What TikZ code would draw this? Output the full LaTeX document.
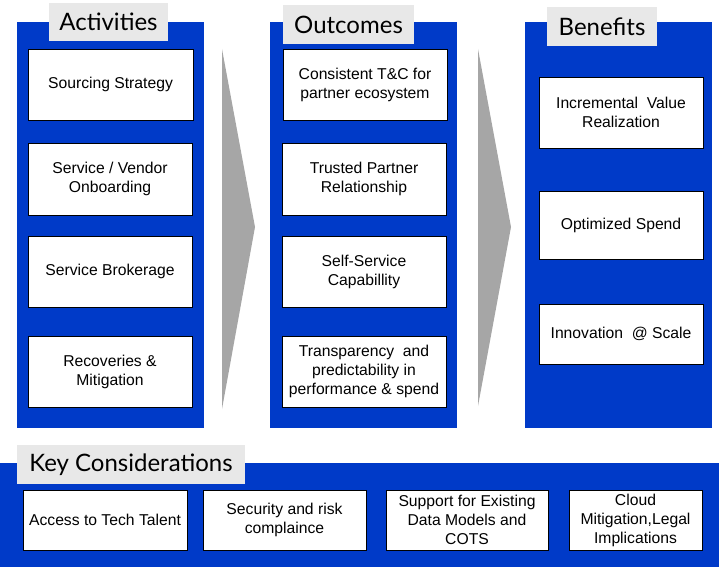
\documentclass[tikz,border=0pt]{standalone}
\usepackage{fontspec}
\setmainfont{Liberation Sans}
\newfontfamily\headfont{Lato}
\definecolor{panelblue}{RGB}{0,58,200}
\definecolor{headgray}{RGB}{232,232,232}
\definecolor{arrowgray}{RGB}{166,166,166}

% box given by its corners: style, name, x1, y1, x2, y2, text
\newcommand\cornerbox[7]{%
  \node[#1, minimum width={#5-#3}, minimum height={#6-#4}] (#2)
    at ({(#3+#5)/2},{(#4+#6)/2}) {#7};}

\begin{document}
\begin{tikzpicture}[x=1pt,y=-1pt,
  panel/.style={fill=panelblue, draw=none, inner sep=0pt, outer sep=0pt},
  header/.style={fill=headgray, draw=none, inner sep=0pt,
    font=\headfont\fontsize{24}{28}\selectfont},
  item/.style={fill=white, draw=black, line width=0.8pt, inner sep=2pt,
    align=center, font=\fontsize{15.7}{19}\selectfont},
  chevron/.style={fill=arrowgray, draw=none}]

\useasboundingbox (0,0) rectangle (719,567);

% column panels
\cornerbox{panel}{pact}{17}{22}{204}{428}{}
\cornerbox{panel}{pout}{270}{22}{457}{428}{}
\cornerbox{panel}{pben}{525}{22}{712}{428}{}
% bottom band
\cornerbox{panel}{pkey}{0}{463}{719}{567}{}

% flow chevrons between the columns
\fill[chevron] (222,49) -- (255,227) -- (222,409) -- cycle;
\fill[chevron] (478,49) -- (511,227) -- (478,406) -- cycle;

% headers
\cornerbox{header}{hact}{49}{3}{168}{41}{Activities}
\cornerbox{header}{hout}{283}{5}{414}{44}{Outcomes}
\cornerbox{header}{hben}{547}{7}{657}{46}{Benefits}
\cornerbox{header}{hkey}{17}{445}{245}{484}{Key Considerations}

% activities
\cornerbox{item}{a1}{28}{49}{193}{120}{Sourcing Strategy}
\cornerbox{item}{a2}{28}{143}{192}{215}{Service / Vendor\\Onboarding}
\cornerbox{item}{a3}{28}{236}{192}{307}{Service Brokerage}
\cornerbox{item}{a4}{28}{336}{192}{407}{Recoveries \&\\Mitigation}

% outcomes
\cornerbox{item}{o1}{283}{49}{447}{120}{Consistent T\&C for\\partner ecosystem}
\cornerbox{item}{o2}{282}{143}{446}{215}{Trusted Partner\\Relationship}
\cornerbox{item}{o3}{282}{236}{446}{307}{Self-Service\\Capabillity}
\cornerbox{item}{o4}{282}{336}{446}{407}{Transparency~ and\\predictability in\\performance \& spend}

% benefits
\cornerbox{item}{b1}{539}{77}{703}{148}{Incremental~ Value\\Realization}
\cornerbox{item}{b2}{539}{191}{703}{259}{Optimized Spend}
\cornerbox{item}{b3}{539}{304}{703}{364}{Innovation~ @ Scale}

% key considerations
\cornerbox{item}{k1}{23}{490}{187}{550}{Access to Tech Talent}
\cornerbox{item}{k2}{203}{490}{366}{550}{Security and risk\\complaince}
\cornerbox{item}{k3}{386}{490}{548}{550}{Support for Existing\\Data Models and\\COTS}
\cornerbox{item}{k4}{569}{490}{702}{550}{Cloud\\Mitigation,Legal\\Implications}
\end{tikzpicture}
\end{document}
